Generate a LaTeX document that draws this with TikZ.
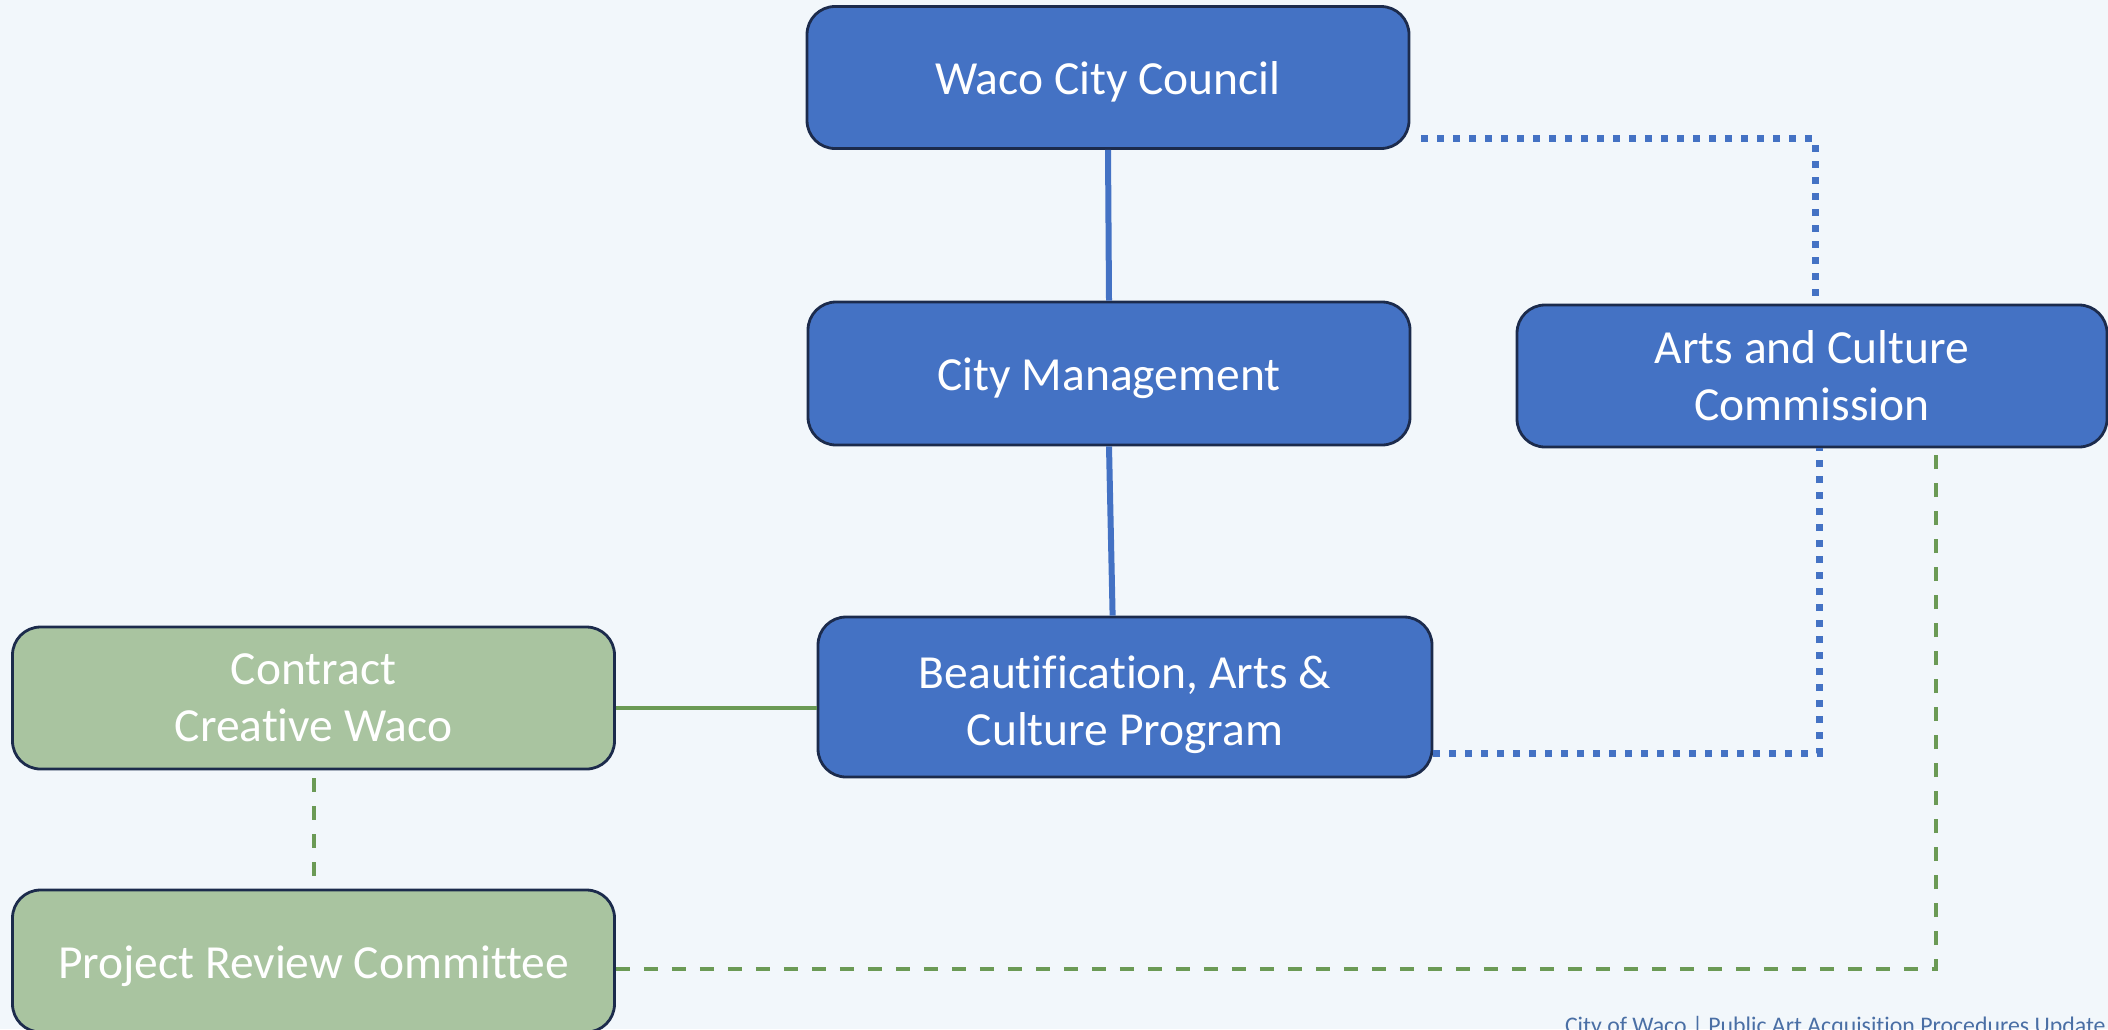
\documentclass[tikz,border=0pt]{standalone}
\usepackage{fontspec}
\setmainfont{Carlito}[Ligatures=NoCommon]
\usetikzlibrary{calc,positioning}
\definecolor{bg}{HTML}{F2F7FB}
\definecolor{boxblue}{HTML}{4472C4}
\definecolor{boxgreen}{HTML}{A9C4A0}
\definecolor{edgenavy}{HTML}{1C2B4C}
\definecolor{linegreen}{HTML}{6B9A55}
\definecolor{footblue}{HTML}{4A6FA5}

\begin{document}
\begin{tikzpicture}[x=0.5pt,y=-0.5pt,inner sep=0pt,
  box/.style={draw=edgenavy,line width=1.4pt,rounded corners=14pt,text=white,align=center,
    font=\fontsize{23.75}{28.5}\selectfont,minimum width=301pt,minimum height=71pt},
  oneline/.style={text height=22pt,text depth=5pt},
  bluebox/.style={box,fill=boxblue},
  greenbox/.style={box,fill=boxgreen},
  blueline/.style={draw=boxblue,line width=3pt},
  bluedots/.style={draw=boxblue,line width=3.5pt,dash pattern=on 3.5pt off 4.5pt},
  greenline/.style={draw=linegreen,line width=2pt},
  greendash/.style={greenline,dash pattern=on 7pt off 7pt}]
\useasboundingbox (0,0) rectangle (2108,1029);
\fill[bg] (0,0) rectangle (2108,1029);

\node[bluebox,oneline] (W) at (1108,77.5) {Waco City Council};
\node[bluebox,oneline,minimum height=71.5pt] (M) at (1109,373.5) {City Management};
\node[bluebox,minimum width=307pt,minimum height=80pt] (B) at (1125,697) {\rule{0pt}{24.5pt}Beautification, Arts \&\\Culture Program};
\node[bluebox,minimum width=295pt] (A) at (1812,376) {Arts and Culture\\Commission};
\node[greenbox] (C) at (313.5,698) {Contract\\Creative Waco};
\node[greenbox,oneline] (P) at (313.5,961) {Project Review Committee};

% solid lines
\draw[blueline] (W.south) -- (M.north);
\draw[blueline] (M.south) -- ([xshift=1.8pt]M.south |- B.north);
\draw[greenline] ([yshift=-5pt]C.east) -- ([yshift=-5pt]C.east -| B.west);

\draw[bluedots] ([xshift=5.5pt,yshift=5.5pt]W.south east) -| ([xshift=1.5pt]A.north);
\draw[bluedots] ([yshift=12.5pt]B.south east) -| ([xshift=3.5pt]A.south);
\draw[greendash,shorten <=4pt,shorten >=6.5pt] (C.south) -- (P.north);
\draw[greendash] ([yshift=-4pt]P.east) -| ($(A.south)+(124,0)$);

\node[anchor=base east,text=footblue,font=\fontsize{11.9}{14}\selectfont] (F) at (2106,1033)
  {City of Waco | Public Art Acquisition Procedures Update};
\end{tikzpicture}
\end{document}
